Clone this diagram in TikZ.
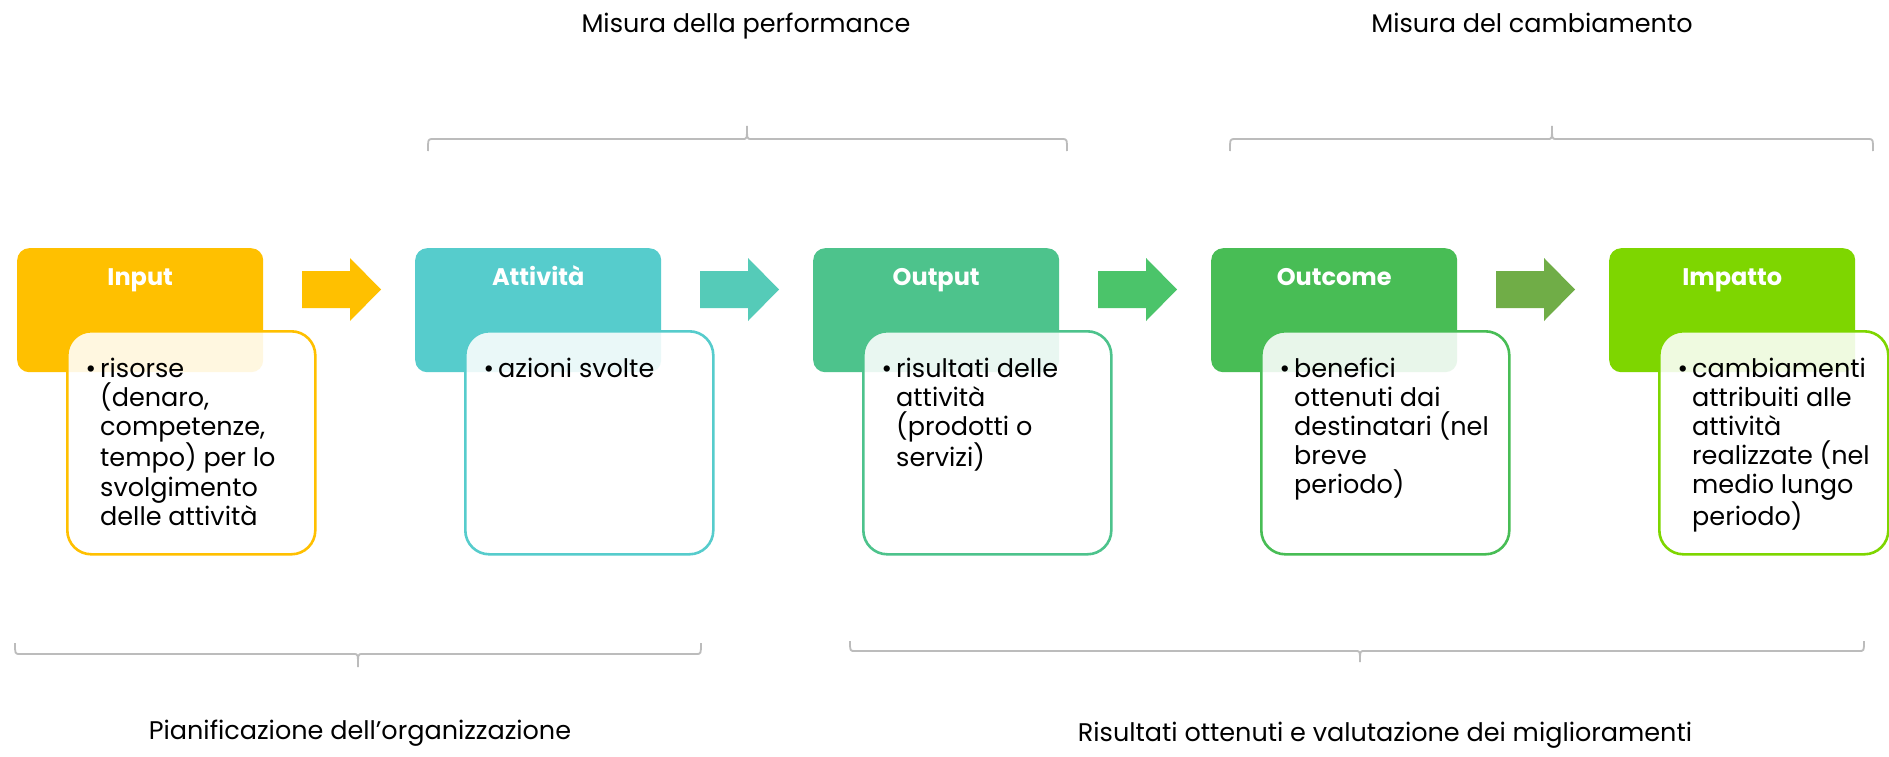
\documentclass[tikz,border=0pt]{standalone}
\usepackage{fontspec}
\setmainfont{Poppins}
\usetikzlibrary{calc}

\definecolor{cInput}{HTML}{FFC000}
\definecolor{cAtt}{HTML}{56CCCC}
\definecolor{cOut}{HTML}{4DC38C}
\definecolor{cOutc}{HTML}{48BD55}
\definecolor{cImp}{HTML}{7ED600}
\definecolor{aTwo}{HTML}{55CBB8}
\definecolor{aThree}{HTML}{4BC46A}
\definecolor{aFour}{HTML}{70AD47}
\definecolor{brkgray}{HTML}{BCBCBC}

\tikzset{
  hdr/.style={rounded corners=12pt, minimum width=246pt, minimum height=124pt, inner sep=0pt},
  hdrtxt/.style={text=white, font=\fontsize{24}{28}\selectfont\bfseries, inner sep=0pt},
  tbox/.style={rounded corners=24pt, line width=2.6pt, fill=white, fill opacity=0.88,
               minimum height=223pt, inner sep=0pt},
  bodytxt/.style={text=black, font=\fontsize{25.5}{29.2}\selectfont, inner sep=0pt},
  lbl/.style={text=black, font=\fontsize{25.5}{30}\selectfont, inner sep=0pt},
  brk/.style={draw=brkgray, line width=1.8pt},
}

% one stage of the chain: coloured header, label and the bullet box below it
\newcommand{\stage}[5]{%
  \pgfmathsetmacro\hx{17+398*#1}
  \node[hdr, fill=#2, anchor=north west] (h#1) at (\hx,248) {};
  \node[hdrtxt, anchor=base] (n#1) at ($(h#1.north)+(0,37)$) {#3};
  \node[tbox, draw=#2, minimum width=#5, anchor=north west] (t#1) at ($(h#1.north west)+(49,82)$) {};
  \node[bodytxt, anchor=base west] (b#1) at ($(t#1.north west)+(34,47)$)
     {\parbox[t]{215pt}{\raggedright\leavevmode\llap{•\hspace{4pt}}#4}};
}

% block arrow between two stages
\newcommand{\blockarrow}[2]{%
  \pgfmathsetmacro\ax{302+398*#1}
  \fill[#2] (\ax,271) -- (\ax+48,271) -- (\ax+48,258) -- (\ax+79,289.5)
            -- (\ax+48,321) -- (\ax+48,308) -- (\ax,308) -- cycle;
}

% square bracket spanning several stages, with a pointed middle tip
\newcommand{\spanbr}[6]{%
  \draw[brk] (#1,#5) .. controls (#1,#4) .. (#1+5,#4) -- (#3-4,#4)
     .. controls (#3,#4) .. (#3,#6) .. controls (#3,#4) .. (#3+4,#4)
     -- (#2-5,#4) .. controls (#2,#4) .. (#2,#5);
}

\begin{document}
\begin{tikzpicture}[x=1pt,y=-1pt]
\useasboundingbox (0,0) rectangle (1889,757);
\fill[white] (0,0) rectangle (1889,757);

\stage{0}{cInput}{Input}{risorse\\(denaro,\\competenze,\\tempo) per lo\\svolgimento\\delle attività}{248pt}
\blockarrow{0}{cInput}
\stage{1}{cAtt}{Attività}{azioni svolte}{248pt}
\blockarrow{1}{aTwo}
\stage{2}{cOut}{Output}{risultati delle\\attività\\(prodotti o\\servizi)}{248pt}
\blockarrow{2}{aThree}
\stage{3}{cOutc}{Outcome}{benefici\\ottenuti dai\\destinatari (nel\\breve\\periodo)}{248pt}
\blockarrow{3}{aFour}
\stage{4}{cImp}{Impatto}{cambiamenti\\attribuiti alle\\attività\\realizzate (nel\\medio lungo\\periodo)}{229pt}

% brackets
\spanbr{428}{1067}{747}{139}{151}{126}
\spanbr{1230}{1873}{1552}{139}{151}{126}
\spanbr{15}{701}{358}{654}{643}{667}
\spanbr{850}{1864}{1360}{651}{641}{662}

% captions
\node[lbl, anchor=base] (m1) at (746,33) {Misura della performance};
\node[lbl, anchor=base] (m2) at (1532,33) {Misura del cambiamento};
\node[lbl, anchor=base] (p1) at (360,739) {Pianificazione dell’organizzazione};
\node[lbl, anchor=base] (p2) at (1385,741) {Risultati ottenuti e valutazione dei miglioramenti};
\end{tikzpicture}
\end{document}
